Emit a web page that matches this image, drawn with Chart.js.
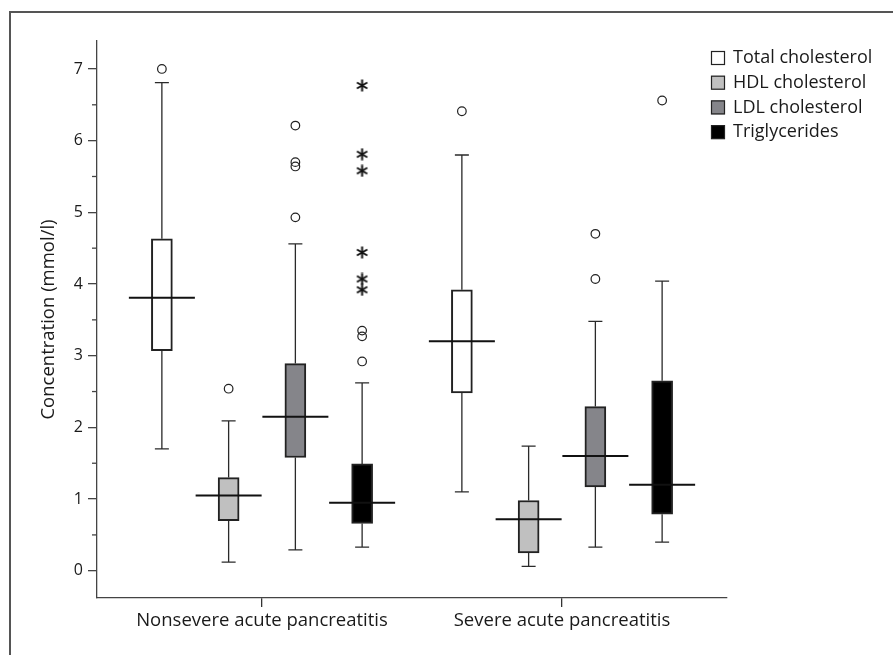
<!DOCTYPE html>
<html>
<head>
<meta charset="utf-8">
<script src="https://cdn.jsdelivr.net/npm/chart.js@4.4.0/dist/chart.umd.min.js"></script>
<style>
  html, body { margin: 0; padding: 0; background: #fff; }
</style>
</head>
<body>
<canvas id="box" width="893" height="655"></canvas>
<script>
// groups along the x axis
var categories = ['Nonsevere acute pancreatitis', 'Severe acute pancreatitis'];
var series = ['Total cholesterol', 'HDL cholesterol', 'LDL cholesterol', 'Triglycerides'];
var fills = ['#ffffff', '#c0c0c0', '#85858a', '#000000'];

// box stats: one row per series, [nonsevere, severe]
var whiskerLow  = [[1.70, 1.10], [0.12, 0.06], [0.29, 0.33], [0.33, 0.40]];
var q1          = [[3.07, 2.48], [0.70, 0.25], [1.58, 1.17], [0.66, 0.79]];
var medians     = [[3.81, 3.20], [1.05, 0.72], [2.15, 1.60], [0.95, 1.20]];
var q3          = [[4.63, 3.92], [1.30, 0.98], [2.89, 2.29], [1.49, 2.65]];
var whiskerHigh = [[6.81, 5.80], [2.09, 1.74], [4.56, 3.48], [2.62, 4.04]];

// outliers (circles) and extreme values (asterisks)
var outliers = [
  [[7.00], [6.41]],
  [[2.54], []],
  [[6.21, 5.70, 5.64, 4.93], [4.70, 4.07]],
  [[3.35, 3.27, 2.92], [6.56]]
];
var extremes = [
  [[], []],
  [[], []],
  [[], []],
  [[6.77, 5.81, 5.58, 4.44, 4.07, 3.92], []]
];

var yTicks = [0, 1, 2, 3, 4, 5, 6, 7];

Chart.defaults.font.family = '"Open Sans", sans-serif';
Chart.defaults.color = '#1a1a1a';

// where a series sits inside its group
function slot(s) { return (s - 1.5) * 0.2225; }

// 6 armed asterisk used as point style
function asterisk(size) {
  var c = document.createElement('canvas');
  c.width = c.height = size;
  var g = c.getContext('2d');
  g.strokeStyle = '#111';
  g.lineWidth = 2;
  var r = size / 2 - 0.5;
  for (var a = 0; a < 3; a++) {
    var ang = Math.PI / 2 + a * Math.PI / 3;
    g.beginPath();
    g.moveTo(size / 2 - r * Math.cos(ang), size / 2 - r * Math.sin(ang));
    g.lineTo(size / 2 + r * Math.cos(ang), size / 2 + r * Math.sin(ang));
    g.stroke();
  }
  return c;
}

var datasets = [];
series.forEach(function (name, s) {
  datasets.push({
    type: 'bar',
    label: name,
    backgroundColor: fills[s],
    borderColor: '#222',
    borderWidth: 2,
    borderSkipped: false,
    barThickness: 21,
    grouped: false,
    data: categories.map(function (c, ci) {
      return { x: ci + slot(s), y: [q1[s][ci], q3[s][ci]] };
    })
  });
});

var circlePts = [], starPts = [];
series.forEach(function (name, s) {
  categories.forEach(function (c, ci) {
    outliers[s][ci].forEach(function (v) { circlePts.push({ x: ci + slot(s), y: v }); });
    extremes[s][ci].forEach(function (v) { starPts.push({ x: ci + slot(s), y: v }); });
  });
});
datasets.push({
  type: 'scatter', label: 'outliers', data: circlePts,
  pointStyle: 'circle', pointRadius: 4.3, borderWidth: 1.2,
  borderColor: '#222', backgroundColor: 'rgba(255,255,255,0)'
});
datasets.push({
  type: 'scatter', label: 'extremes', data: starPts,
  pointStyle: asterisk(13), pointRadius: 6
});

var boxParts = {
  id: 'boxParts',
  beforeDraw: function (chart) {
    var ctx = chart.ctx;
    ctx.save();
    ctx.strokeStyle = '#555';
    ctx.lineWidth = 2;
    ctx.beginPath();
    ctx.moveTo(10, chart.height);
    ctx.lineTo(10, 12);
    ctx.lineTo(chart.width, 12);
    ctx.stroke();
    ctx.restore();
  },
  beforeDatasetsDraw: function (chart) {
    var ctx = chart.ctx, xs = chart.scales.x, ys = chart.scales.y;
    ctx.save();
    ctx.strokeStyle = '#2a2a2a';
    ctx.lineWidth = 1.3;
    series.forEach(function (name, s) {
      categories.forEach(function (c, ci) {
        var px = xs.getPixelForValue(ci + slot(s));
        var lo = ys.getPixelForValue(whiskerLow[s][ci]);
        var hi = ys.getPixelForValue(whiskerHigh[s][ci]);
        ctx.beginPath();
        ctx.moveTo(px, lo); ctx.lineTo(px, ys.getPixelForValue(q1[s][ci]));
        ctx.moveTo(px, hi); ctx.lineTo(px, ys.getPixelForValue(q3[s][ci]));
        ctx.moveTo(px - 7, lo); ctx.lineTo(px + 7, lo);
        ctx.moveTo(px - 7, hi); ctx.lineTo(px + 7, hi);
        ctx.stroke();
      });
    });
    ctx.restore();
  },
  afterDatasetsDraw: function (chart) {
    var ctx = chart.ctx, xs = chart.scales.x, ys = chart.scales.y;
    ctx.save();
    // medians
    ctx.strokeStyle = '#111';
    ctx.lineWidth = 2;
    series.forEach(function (name, s) {
      categories.forEach(function (c, ci) {
        var px = xs.getPixelForValue(ci + slot(s));
        var py = ys.getPixelForValue(medians[s][ci]);
        ctx.beginPath();
        ctx.moveTo(px - 33, py); ctx.lineTo(px + 33, py);
        ctx.stroke();
      });
    });
    // half unit ticks
    ctx.strokeStyle = '#444';
    ctx.lineWidth = 1.3;
    for (var k = 0; k < yTicks.length - 1; k++) {
      var py = ys.getPixelForValue(yTicks[k] + 0.5);
      ctx.beginPath();
      ctx.moveTo(ys.right - 5, py); ctx.lineTo(ys.right, py);
      ctx.stroke();
    }
    // legend
    var lx = chart.chartArea.right - 16, ly = chart.chartArea.top + 17;
    ctx.font = '18px "Open Sans", sans-serif';
    ctx.textBaseline = 'middle';
    series.forEach(function (name, s) {
      var cy = ly + s * 24.7;
      ctx.fillStyle = fills[s];
      ctx.fillRect(lx, cy - 7, 14, 14);
      ctx.strokeStyle = '#222';
      ctx.lineWidth = 1.2;
      ctx.strokeRect(lx + 0.5, cy - 6.5, 13, 13);
      ctx.fillStyle = '#1a1a1a';
      ctx.fillText(name, lx + 22, cy);
    });
    ctx.restore();
  }
};

new Chart(document.getElementById('box'), {
  type: 'bar',
  data: { datasets: datasets },
  options: {
    responsive: false,
    animation: false,
    devicePixelRatio: 1,
    layout: { padding: { top: 41, right: 166, left: 0, bottom: 0 } },
    plugins: { legend: { display: false }, tooltip: { enabled: false } },
    scales: {
      x: {
        type: 'linear',
        min: -0.55,
        max: 1.55,
        offset: false,
        afterBuildTicks: function (scale) {
          scale.ticks = categories.map(function (c, i) { return { value: i }; });
        },
        afterFit: function (scale) { scale.height = 57; },
        ticks: {
          font: { size: 18.5 },
          padding: 3,
          maxRotation: 0,
          autoSkip: false,
          callback: function (v) { return categories[v]; }
        },
        grid: { offset: false, drawOnChartArea: false, tickLength: 9, color: '#333', lineWidth: 1.3 },
        border: { color: '#444', width: 1.3 }
      },
      y: {
        type: 'linear',
        min: -0.38,
        max: 7.39,
        afterBuildTicks: function (scale) {
          scale.ticks = yTicks.map(function (v) { return { value: v }; });
        },
        afterFit: function (scale) { scale.width = 97; },
        ticks: { font: { size: 16 }, padding: 5 },
        grid: { drawOnChartArea: false, tickLength: 9, color: '#444', lineWidth: 1.3 },
        border: { color: '#444', width: 1.3 },
        title: {
          display: true,
          text: 'Concentration (mmol/l)',
          font: { size: 18.5 },
          padding: { top: 38, bottom: 0 }
        }
      }
    }
  },
  plugins: [boxParts]
});
</script>
</body>
</html>
